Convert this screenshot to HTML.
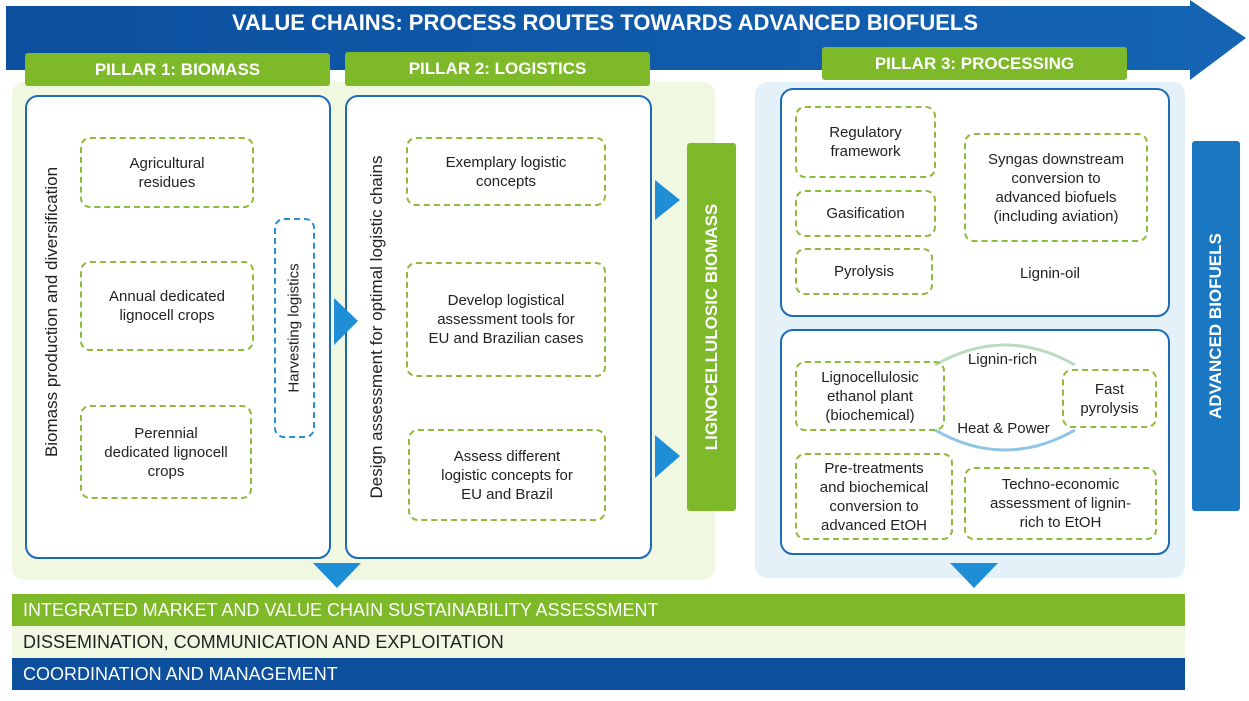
<!DOCTYPE html>
<html><head><meta charset="utf-8"><style>
body{margin:0;width:1249px;height:701px;background:#fff;position:relative;overflow:hidden;font-family:"Liberation Sans",sans-serif;color:#222}
.a{position:absolute;box-sizing:border-box}
.hd{background:#7db928;color:#fff;font-weight:bold;font-size:17px;display:flex;align-items:center;justify-content:center;border-radius:3px}
.bx{border:2.5px solid #1a6cb8;border-radius:13px;background:#fff}
.d{border:2px dashed #8dbb3a;border-radius:10px;display:flex;align-items:center;justify-content:center;text-align:center;font-size:15px;line-height:19px}
.t{font-size:15px;text-align:center}
.vt{position:absolute;transform:translate(-50%,-50%) rotate(-90deg);white-space:nowrap;font-size:17px}
.band{position:absolute;left:12px;width:1173px;font-size:18px;padding-left:11px;display:flex;align-items:center;box-sizing:border-box}
</style></head><body>
<svg class="a" style="left:0;top:0" width="1249" height="701">
<defs><linearGradient id="g" x1="0" x2="1"><stop offset="0" stop-color="#0b4f9e"/><stop offset="1" stop-color="#1565b5"/></linearGradient></defs>
<polygon points="6,6 1190,6 1190,0 1246,38 1190,80 1190,70 6,70" fill="url(#g)"/>
<rect x="12" y="82" width="703" height="498" rx="12" fill="#f1f8e2"/>
<rect x="755" y="82" width="430" height="496" rx="12" fill="#e4f1f9"/>
</svg>
<div class="a" style="left:0;top:10px;width:1210px;text-align:center;color:#fff;font-weight:bold;font-size:22px">VALUE CHAINS: PROCESS ROUTES TOWARDS ADVANCED BIOFUELS</div>
<div class="a hd" style="left:25px;top:53px;width:305px;height:33px">PILLAR 1: BIOMASS</div>
<div class="a hd" style="left:345px;top:52px;width:305px;height:34px">PILLAR 2: LOGISTICS</div>
<div class="a hd" style="left:822px;top:47px;width:305px;height:33px">PILLAR 3: PROCESSING</div>

<div class="a bx" style="left:25px;top:95px;width:306px;height:464px"></div>
<div class="vt" style="left:52px;top:312px">Biomass production and diversification</div>
<div class="a d" style="left:80px;top:137px;width:174px;height:71px">Agricultural<br>residues</div>
<div class="a d" style="left:80px;top:261px;width:174px;height:90px">Annual dedicated<br>lignocell crops</div>
<div class="a d" style="left:80px;top:405px;width:172px;height:94px">Perennial<br>dedicated lignocell<br>crops</div>
<div class="a d" style="left:274px;top:218px;width:41px;height:220px;border-color:#2a8fd0"></div>
<div class="vt" style="left:294px;top:328px;font-size:15px">Harvesting logistics</div>

<div class="a bx" style="left:345px;top:95px;width:307px;height:464px"></div>
<div class="vt" style="left:377px;top:327px">Design assessment for optimal logistic chains</div>
<div class="a d" style="left:406px;top:137px;width:200px;height:69px">Exemplary logistic<br>concepts</div>
<div class="a d" style="left:406px;top:262px;width:200px;height:115px">Develop logistical<br>assessment tools for<br>EU and Brazilian cases</div>
<div class="a d" style="left:408px;top:429px;width:198px;height:92px">Assess different<br>logistic concepts for<br>EU and Brazil</div>

<div class="a" style="left:687px;top:143px;width:49px;height:368px;background:#7db928;border-radius:3px"></div>
<div class="vt" style="left:712px;top:327px;color:#fff;font-weight:bold;font-size:17px">LIGNOCELLULOSIC BIOMASS</div>
<div class="a" style="left:1192px;top:141px;width:48px;height:370px;background:#1a78c2;border-radius:3px"></div>
<div class="vt" style="left:1216px;top:326px;color:#fff;font-weight:bold;font-size:17px">ADVANCED BIOFUELS</div>

<div class="a bx" style="left:780px;top:88px;width:390px;height:229px"></div>
<div class="a d" style="left:795px;top:106px;width:141px;height:72px">Regulatory<br>framework</div>
<div class="a d" style="left:795px;top:190px;width:141px;height:47px">Gasification</div>
<div class="a d" style="left:795px;top:248px;width:138px;height:47px">Pyrolysis</div>
<div class="a d" style="left:964px;top:133px;width:184px;height:109px">Syngas downstream<br>conversion to<br>advanced biofuels<br>(including aviation)</div>
<div class="a t" style="left:1000px;top:265px;width:100px">Lignin-oil</div>

<div class="a bx" style="left:780px;top:329px;width:390px;height:226px"></div>
<svg class="a" style="left:925px;top:335px" width="160" height="120"><path d="M10,30 Q80,-10 150,30" stroke="#b9dcc0" stroke-width="3" fill="none"/><path d="M10,95 Q80,135 150,95" stroke="#8ec4e6" stroke-width="3" fill="none"/></svg>
<div class="a d" style="left:795px;top:361px;width:150px;height:70px">Lignocellulosic<br>ethanol plant<br>(biochemical)</div>
<div class="a d" style="left:1062px;top:369px;width:95px;height:59px">Fast<br>pyrolysis</div>
<div class="a t" style="left:950px;top:351px;width:105px">Lignin-rich</div>
<div class="a t" style="left:945px;top:420px;width:117px">Heat &amp; Power</div>
<div class="a d" style="left:795px;top:453px;width:158px;height:87px">Pre-treatments<br>and biochemical<br>conversion to<br>advanced EtOH</div>
<div class="a d" style="left:964px;top:467px;width:193px;height:73px">Techno-economic<br>assessment of lignin-<br>rich to EtOH</div>

<svg class="a" style="left:0;top:0" width="1249" height="701">
<polygon points="334,298 358,321 334,345" fill="#1e8fd6"/>
<polygon points="655,180 680,200 655,220" fill="#1e8fd6"/>
<polygon points="655,435 680,456 655,478" fill="#1e8fd6"/>
<polygon points="313,563 361,563 337,588" fill="#1e8fd6"/>
<polygon points="950,563 998,563 974,588" fill="#1e8fd6"/>
</svg>

<div class="band" style="top:594px;height:32px;background:#7db928;color:#fff">INTEGRATED MARKET AND VALUE CHAIN SUSTAINABILITY ASSESSMENT</div>
<div class="band" style="top:626px;height:32px;background:#f1f8e2;color:#222">DISSEMINATION, COMMUNICATION AND EXPLOITATION</div>
<div class="band" style="top:658px;height:32px;background:#0d4f9c;color:#fff">COORDINATION AND MANAGEMENT</div>
</body></html>
